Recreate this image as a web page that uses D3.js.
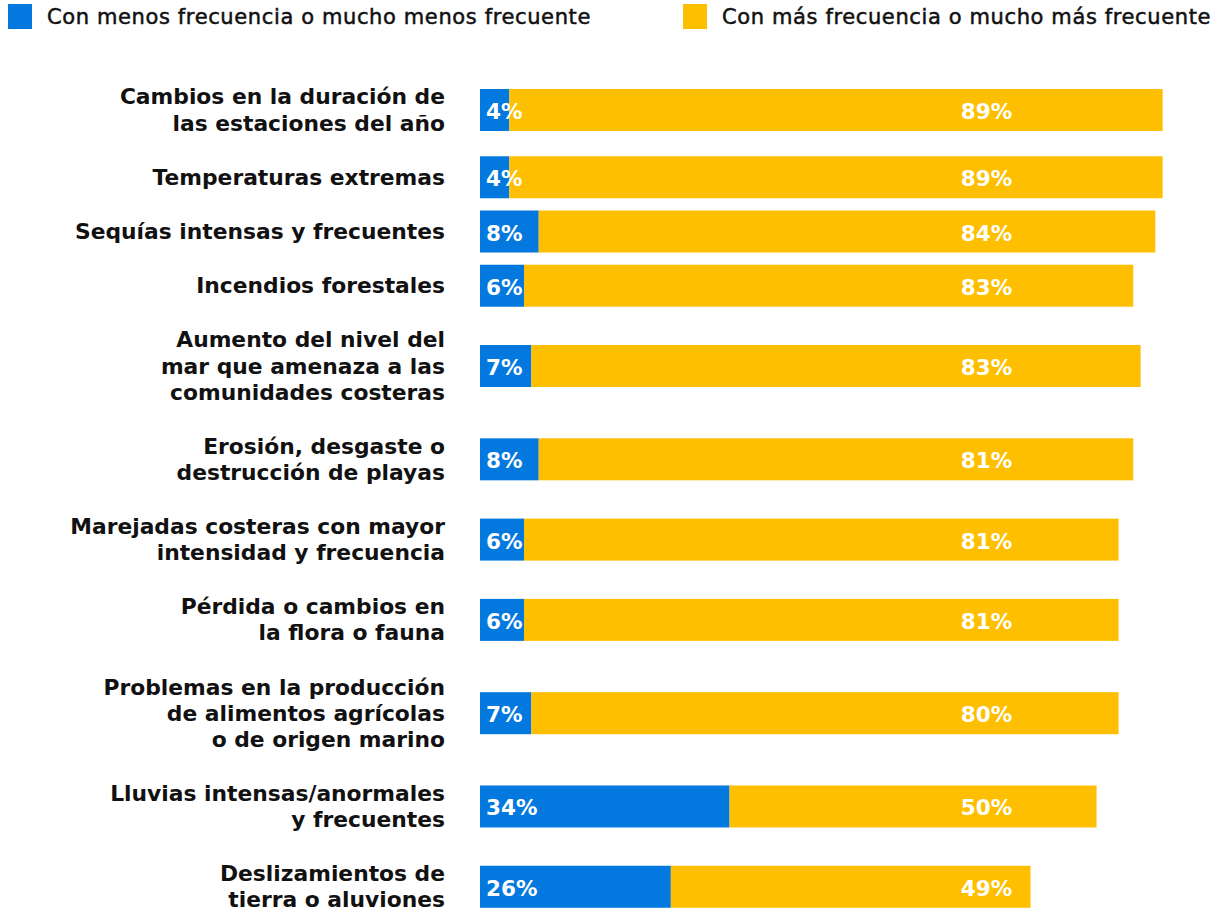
<!DOCTYPE html>
<html><head><meta charset="utf-8">
<script src="https://cdn.jsdelivr.net/npm/d3@7"></script>
<style>body{margin:0;background:#fff}</style>
</head><body>
<svg id="s" width="1220" height="910"></svg>
<script>
// ---- data ----
const categories = [
  ["Cambios en la duración de", "las estaciones del año"],
  ["Temperaturas extremas"],
  ["Sequías intensas y frecuentes"],
  ["Incendios forestales"],
  ["Aumento del nivel del", "mar que amenaza a las", "comunidades costeras"],
  ["Erosión, desgaste o", "destrucción de playas"],
  ["Marejadas costeras con mayor", "intensidad y frecuencia"],
  ["Pérdida o cambios en", "la flora o fauna"],
  ["Problemas en la producción", "de alimentos agrícolas", "o de origen marino"],
  ["Lluvias intensas/anormales", "y frecuentes"],
  ["Deslizamientos de", "tierra o aluviones"]
];
const lessFrequent = [4, 4, 8, 6, 7, 8, 6, 6, 7, 34, 26];
const moreFrequent = [89, 89, 84, 83, 83, 81, 81, 81, 80, 50, 49];
const seriesNames = ["Con menos frecuencia o mucho menos frecuente", "Con más frecuencia o mucho más frecuente"];
const colors = ["#0378de", "#fdbf00"];

// ---- layout ----
const svg = d3.select("#s");
const FONT = "'DejaVu Sans', sans-serif";
const x = d3.scaleLinear().domain([0, 100]).range([480, 1214]);
const lineH = 26.04, rowGap = 28.2, barH = 42;

// row centers in "line units": gap between rows + half of the lines of each neighbour
const units = [];
categories.forEach((c, i) => {
  if (i === 0) units.push(0);
  else units.push(units[i - 1] + rowGap / lineH + (categories[i - 1].length + c.length) / 2);
});
const y = d3.scaleLinear().domain([0, 1]).range([110, 110 + lineH]);

const rows = categories.map((c, i) => ({ lines: c, a: lessFrequent[i], b: moreFrequent[i], cy: y(units[i]) }));

const g = svg.append("g");
const row = g.selectAll("g.row").data(rows).join("g").attr("class", "row");

// labels
row.append("text")
  .attr("text-anchor", "end")
  .attr("font-family", FONT).attr("font-weight", 700).attr("font-size", 21.8)
  .attr("fill", "#111")
  .each(function (d) {
    const t = d3.select(this);
    const n = d.lines.length;
    d.lines.forEach((l, k) => {
      t.append("tspan").attr("x", 445)
        .attr("y", d.cy - (n - 1) * lineH / 2 + k * lineH + 7.5)
        .text(l);
    });
  });

// bars
row.append("rect")
  .attr("x", x(0)).attr("y", d => d.cy - barH / 2)
  .attr("width", d => x(d.a) - x(0)).attr("height", barH)
  .attr("fill", colors[0]);
row.append("rect")
  .attr("x", d => x(d.a)).attr("y", d => d.cy - barH / 2)
  .attr("width", d => x(d.a + d.b) - x(d.a)).attr("height", barH)
  .attr("fill", colors[1]);

// value labels
row.append("text")
  .attr("x", x(0) + 6).attr("y", d => d.cy + 9)
  .attr("font-family", FONT).attr("font-weight", 700).attr("font-size", 21.5)
  .attr("fill", "#fff")
  .text(d => d.a + "%");
row.append("text")
  .attr("x", x(65.5)).attr("y", d => d.cy + 9)
  .attr("font-family", FONT).attr("font-weight", 700).attr("font-size", 21.5)
  .attr("fill", "#fff")
  .text(d => d.b + "%");

// legend
const legendX = [8, 683];
const leg = svg.append("g").selectAll("g").data(seriesNames).join("g")
  .attr("transform", (d, i) => `translate(${legendX[i]},0)`);
leg.append("rect").attr("x", 0).attr("y", 4).attr("width", 24).attr("height", 25)
  .attr("fill", (d, i) => colors[i]);
leg.append("text").attr("x", 39).attr("y", 23.5)
  .attr("font-family", FONT).attr("font-size", 21)
  .attr("letter-spacing", 0.62)
  .attr("fill", "#111").attr("stroke", "#111").attr("stroke-width", 0.5)
  .text(d => d);
</script>
</body></html>
